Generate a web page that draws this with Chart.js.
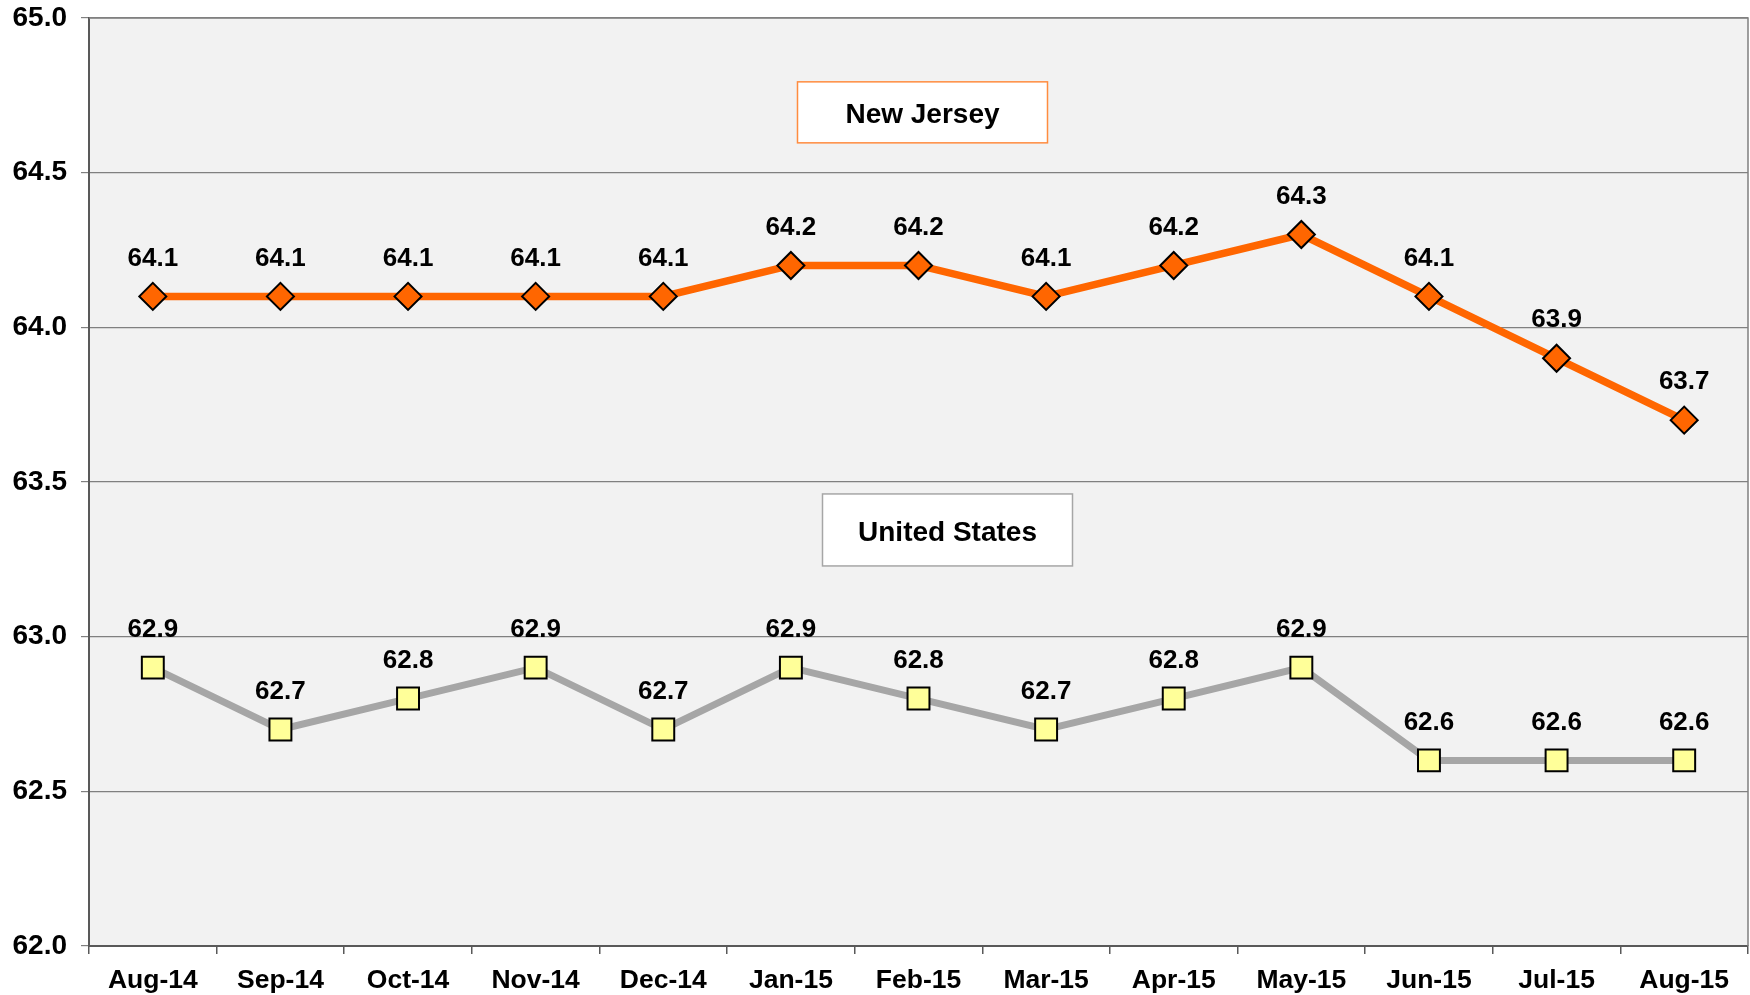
<!DOCTYPE html>
<html>
<head>
<meta charset="utf-8">
<script src="https://cdn.jsdelivr.net/npm/chart.js@4"></script>
<style>
  html, body { margin: 0; padding: 0; background: #ffffff; }
  #wrap { width: 1750px; height: 995px; position: relative; }
</style>
</head>
<body>
<div id="wrap"><canvas id="c" width="1750" height="995"></canvas></div>
<script>
const categories = ["Aug-14","Sep-14","Oct-14","Nov-14","Dec-14","Jan-15","Feb-15","Mar-15","Apr-15","May-15","Jun-15","Jul-15","Aug-15"];
const newJersey = [64.1,64.1,64.1,64.1,64.1,64.2,64.2,64.1,64.2,64.3,64.1,63.9,63.7];
const unitedStates = [62.9,62.7,62.8,62.9,62.7,62.9,62.8,62.7,62.8,62.9,62.6,62.6,62.6];
const yTicks = [62.0,62.5,63.0,63.5,64.0,64.5,65.0];
const seriesNames = ["New Jersey","United States"];

const FONT = '"Liberation Sans", Arial, Helvetica, sans-serif';

const areaPlugin = {
  id: 'areaPlugin',
  beforeDraw(chart) {
    const {ctx, chartArea: a} = chart;
    ctx.save();
    ctx.fillStyle = '#F2F2F2';
    ctx.fillRect(a.left, a.top, a.right - a.left, a.bottom - a.top);
    ctx.restore();
  },
  afterDraw(chart) {
    const {ctx, chartArea: a} = chart;
    ctx.save();
    ctx.strokeStyle = '#808080';
    ctx.lineWidth = 1.5;
    ctx.beginPath();
    ctx.moveTo(a.left, a.top);
    ctx.lineTo(a.right, a.top);
    ctx.lineTo(a.right, a.bottom);
    ctx.stroke();
    ctx.restore();
  }
};

const labelPlugin = {
  id: 'labelPlugin',
  afterDatasetsDraw(chart) {
    const {ctx} = chart;
    ctx.save();
    ctx.font = 'bold 26px ' + FONT;
    ctx.fillStyle = '#000';
    ctx.textAlign = 'center';
    ctx.textBaseline = 'middle';
    chart.data.datasets.forEach((ds, i) => {
      const meta = chart.getDatasetMeta(i);
      meta.data.forEach((pt, j) => {
        ctx.fillText(ds.data[j].toFixed(1), pt.x, pt.y - 38);
      });
    });
    // series name boxes
    const xs = chart.scales.x, ys = chart.scales.y;
    const boxes = [
      {text: seriesNames[0], cx: xs.getPixelForValue(6) + 4, cy: ys.getPixelForValue(64.695), w: 250, h: 61, border: '#FF8C3F'},
      {text: seriesNames[1], cx: xs.getPixelForValue(6) + 29, cy: ys.getPixelForValue(63.345), w: 250, h: 72, border: '#A6A6A6'}
    ];
    ctx.font = 'bold 28px ' + FONT;
    boxes.forEach(b => {
      ctx.fillStyle = '#FFFFFF';
      ctx.fillRect(b.cx - b.w/2, b.cy - b.h/2, b.w, b.h);
      ctx.strokeStyle = b.border;
      ctx.lineWidth = 1.5;
      ctx.strokeRect(b.cx - b.w/2, b.cy - b.h/2, b.w, b.h);
      ctx.fillStyle = '#000';
      ctx.fillText(b.text, b.cx, b.cy + 3);
    });
    ctx.restore();
  }
};

new Chart(document.getElementById('c'), {
  type: 'line',
  data: {
    labels: categories,
    datasets: [
      {
        label: seriesNames[0],
        data: newJersey,
        borderColor: '#FF6600',
        borderWidth: 7.5,
        pointStyle: 'rectRot',
        pointRadius: 13.5,
        pointBackgroundColor: '#FF6600',
        pointBorderColor: '#000000',
        pointBorderWidth: 2,
        tension: 0
      },
      {
        label: seriesNames[1],
        data: unitedStates,
        borderColor: '#A6A6A6',
        borderWidth: 7,
        pointStyle: 'rect',
        pointRadius: 15.5,
        pointBackgroundColor: '#FFFF99',
        pointBorderColor: '#000000',
        pointBorderWidth: 2,
        tension: 0
      }
    ]
  },
  options: {
    responsive: false,
    animation: false,
    devicePixelRatio: 1,
    layout: { autoPadding: false, padding: { top: 18, right: 2, left: 0, bottom: 0 } },
    plugins: { legend: { display: false }, tooltip: { enabled: false } },
    scales: {
      x: {
        type: 'category',
        offset: true,
        afterFit(s) { s.height = 49; s.paddingLeft = 0; s.paddingRight = 0; },
        grid: { drawOnChartArea: false, drawTicks: true, tickLength: 8, color: '#595959', lineWidth: 1.5, offset: true },
        border: { color: '#595959', width: 2 },
        ticks: { font: { family: FONT, size: 26.5, weight: 'bold' }, color: '#000', padding: 11, maxRotation: 0, autoSkip: false }
      },
      y: {
        min: 62, max: 65,
        afterFit(s) { s.width = 89; s.paddingTop = 0; s.paddingBottom = 0; },
        afterBuildTicks(s) { s.ticks = yTicks.map(v => ({value: v})); },
        grid: { color: '#808080', lineWidth: 1.2, tickLength: 8, drawTicks: true },
        border: { color: '#595959', width: 2 },
        ticks: { font: { family: FONT, size: 28, weight: 'bold' }, color: '#000', padding: 14, callback: v => Number(v).toFixed(1) }
      }
    }
  },
  plugins: [areaPlugin, labelPlugin]
});
</script>
</body>
</html>
